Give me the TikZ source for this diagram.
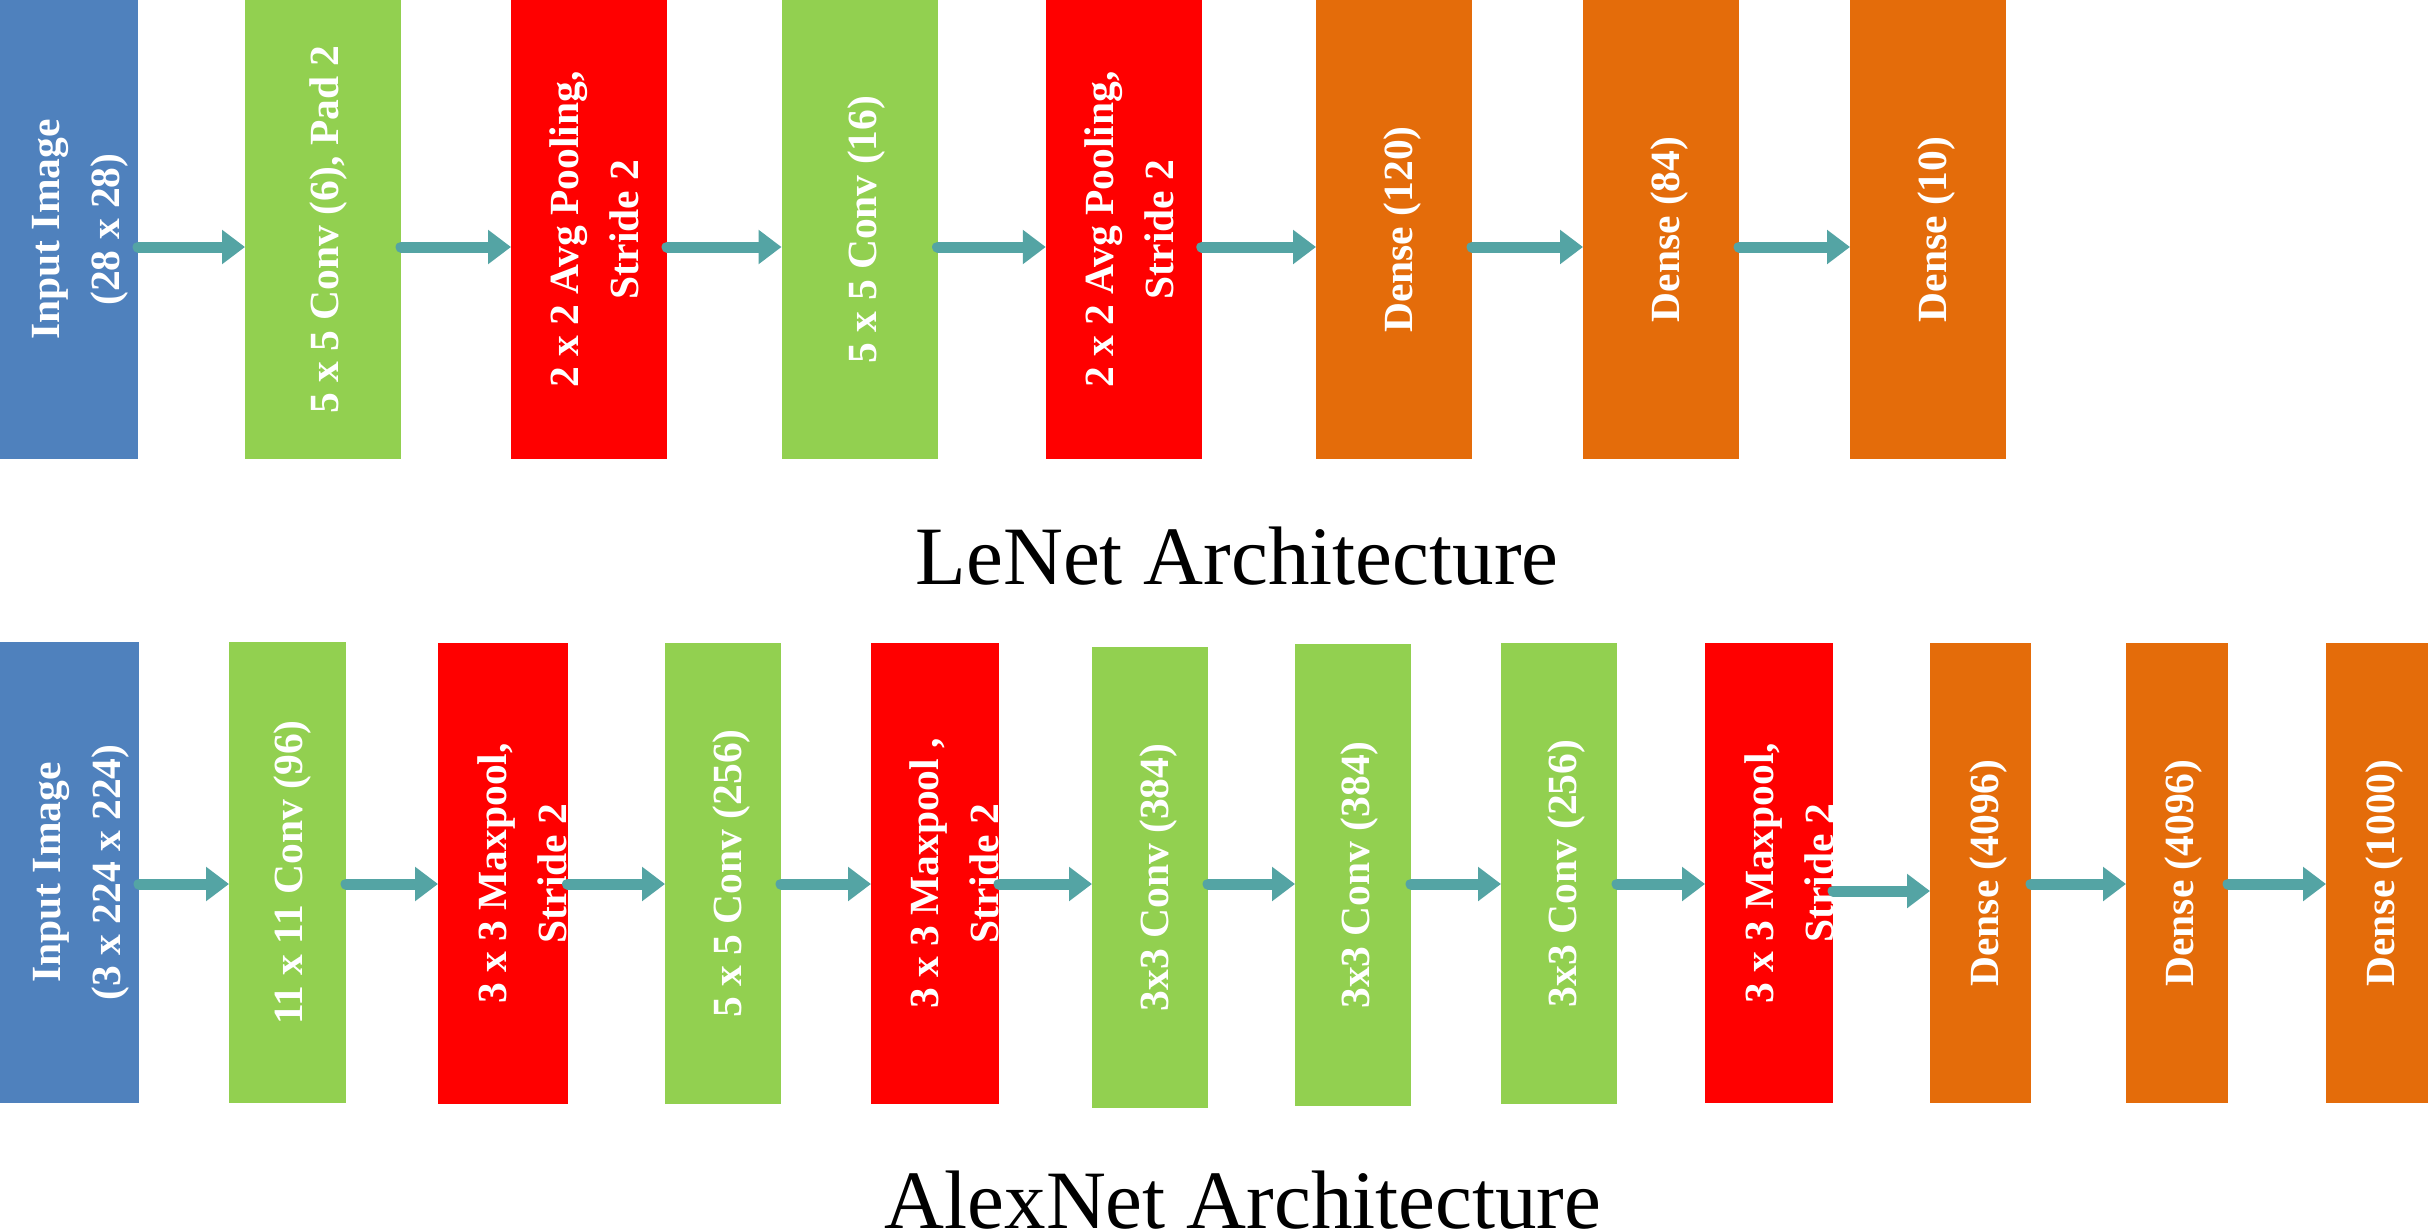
\documentclass[tikz,border=0pt]{standalone}
\usepackage{fontspec}
\setmainfont{Liberation Serif}
\usepackage{graphicx}
\usetikzlibrary{arrows.meta}
\definecolor{cblue}{HTML}{4F81BD}
\definecolor{cgreen}{HTML}{92D050}
\definecolor{cred}{HTML}{FF0000}
\definecolor{corange}{HTML}{E46C0A}
\definecolor{carrow}{HTML}{54A4A4}
\newcommand\vlabel[2][6pt]{\makebox[0pt]{\hspace*{#1}\hspace*{#1}\rotatebox{90}{\fontsize{41.5}{60}\selectfont\bfseries\begin{tabular}{@{}c@{}}#2\end{tabular}}}}
\begin{document}
\begin{tikzpicture}[x=1pt,y=-1pt,
  layer/.style={rectangle, inner sep=0pt, outer sep=0pt, draw=none, text=white},
  toprow/.style={layer, minimum height=459pt},
  botrow/.style={layer, minimum height=461pt},
  conn/.style={draw=carrow, line width=11pt, line cap=round, -{Triangle[length=23pt,width=33pt]}},
  ttl/.style={font=\fontsize{83}{100}\selectfont, text=black, inner sep=0pt, anchor=base}]
\useasboundingbox[fill=white] (0,0) rectangle (2428,1231);
\coordinate (rowA) at (0,247);
\coordinate (rowB) at (0,884);
\coordinate (rowBb) at (0,891);
% LeNet
\node[toprow, fill=cblue,   minimum width=138pt] (t0) at (69,229.5)     {\vlabel[8.5pt]{Input Image\\(28 x 28)}};
\node[toprow, fill=cgreen,  minimum width=156pt] (t1) at (323,229.5)    {\vlabel[3pt]{5 x 5 Conv (6), Pad 2}};
\node[toprow, fill=cred,    minimum width=156pt] (t2) at (589,229.5)    {\vlabel[7.5pt]{2 x 2 Avg Pooling,\\Stride 2}};
\node[toprow, fill=cgreen,  minimum width=156pt] (t3) at (859.5,229.5)  {\vlabel[5pt]{5 x 5 Conv (16)}};
\node[toprow, fill=cred,    minimum width=156pt] (t4) at (1123.75,229.5){\vlabel[7.5pt]{2 x 2 Avg Pooling,\\Stride 2}};
\node[toprow, fill=corange, minimum width=156pt] (t5) at (1394,229.5)   {\vlabel{Dense (120)}};
\node[toprow, fill=corange, minimum width=156pt] (t6) at (1661,229.5)   {\vlabel{Dense (84)}};
\node[toprow, fill=corange, minimum width=156pt] (t7) at (1928,229.5)   {\vlabel{Dense (10)}};
\foreach \a/\b in {t0/t1,t1/t2,t2/t3,t3/t4,t4/t5,t5/t6,t6/t7}
  \draw[conn] (\a.east |- rowA) -- (\b.west |- rowA);
\node[ttl] (lenet) at (1237,584) {LeNet Architecture};
% AlexNet
\node[botrow, fill=cblue,   minimum width=139pt] (b0) at (69.5,872.5)  {\vlabel[8.5pt]{Input Image\\(3 x 224 x 224)}};
\node[botrow, fill=cgreen,  minimum width=117pt] (b1) at (287.5,872.5) {\vlabel[3pt]{11 x 11 Conv (96)}};
\node[botrow, fill=cred,    minimum width=129.5pt] (b2) at (502.75,873.5) {\vlabel[22pt]{3 x 3 Maxpool,\\Stride 2}};
\node[botrow, fill=cgreen,  minimum width=116pt] (b3) at (723,873.5)   {\vlabel{5 x 5 Conv (256)}};
\node[botrow, fill=cred,    minimum width=128pt] (b4) at (935,873.5)   {\vlabel[21pt]{3 x 3 Maxpool ,\\Stride 2}};
\node[botrow, fill=cgreen,  minimum width=116pt] (b5) at (1150,877.5)  {\vlabel{3x3 Conv (384)}};
\node[botrow, fill=cgreen,  minimum width=116pt, minimum height=462pt] (b6) at (1353,875) {\vlabel[4pt]{3x3 Conv (384)}};
\node[botrow, fill=cgreen,  minimum width=116pt] (b7) at (1559,873.5)  {\vlabel[5pt]{3x3 Conv (256)}};
\node[botrow, fill=cred,    minimum width=128pt, minimum height=460pt] (b8) at (1769,873) {\vlabel[22pt]{3 x 3 Maxpool,\\Stride 2}};
\node[botrow, fill=corange, minimum width=101pt, minimum height=460pt] (b9) at (1980.5,873) {\vlabel{Dense (4096)}};
\node[botrow, fill=corange, minimum width=102pt, minimum height=460pt] (b10) at (2177,873) {\vlabel[4pt]{Dense (4096)}};
\node[botrow, fill=corange, minimum width=102pt, minimum height=460pt] (b11) at (2377,873) {\vlabel[5pt]{Dense (1000)}};
\foreach \a/\b in {b0/b1,b1/b2,b2/b3,b3/b4,b4/b5,b5/b6,b6/b7,b7/b8,b9/b10,b10/b11}
  \draw[conn] (\a.east |- rowB) -- (\b.west |- rowB);
\draw[conn] (b8.east |- rowBb) -- (b9.west |- rowBb);
\node[ttl] (alexnet) at (1243,1228) {AlexNet Architecture};
\end{tikzpicture}
\end{document}
